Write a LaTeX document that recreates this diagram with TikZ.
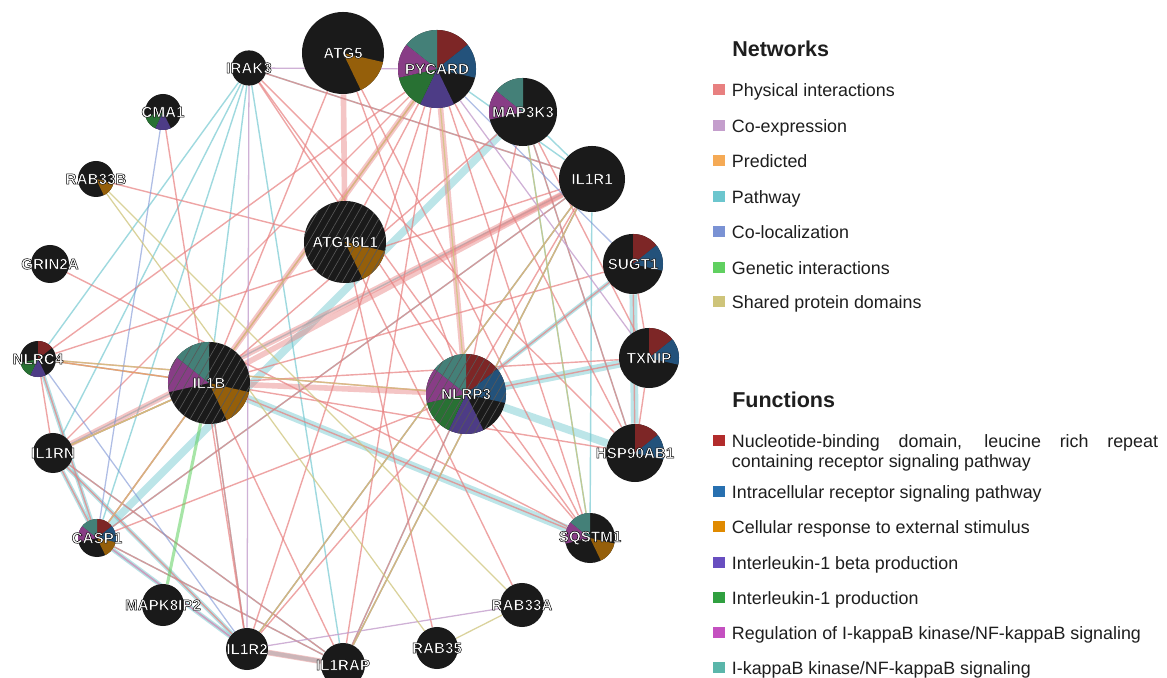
\documentclass[tikz,border=0pt]{standalone}
\usepackage{fontspec}
\setmainfont{Liberation Sans}
\usepackage{xcolor}
\usepackage{tikz}
\usetikzlibrary{positioning, backgrounds, patterns.meta}
\definecolor{nodeblack}{RGB}{26, 26, 26}
\definecolor{hatchgray}{RGB}{88, 88, 88}
\definecolor{legblack}{RGB}{30, 30, 30}
\definecolor{physpink}{RGB}{232, 128, 128}
\definecolor{coexlilac}{RGB}{196, 158, 204}
\definecolor{predorange}{RGB}{245, 170, 85}
\definecolor{pathcyan}{RGB}{108, 198, 206}
\definecolor{colocblue}{RGB}{122, 146, 212}
\definecolor{genegreen}{RGB}{96, 208, 96}
\definecolor{domainolive}{RGB}{206, 196, 122}
\definecolor{fnred}{RGB}{178, 44, 44}
\definecolor{fnblue}{RGB}{40, 112, 176}
\definecolor{fnorange}{RGB}{224, 138, 0}
\definecolor{fnpurple}{RGB}{104, 78, 192}
\definecolor{fngreen}{RGB}{48, 160, 64}
\definecolor{fnmagenta}{RGB}{196, 80, 192}
\definecolor{fnteal}{RGB}{90, 182, 170}
\colorlet{slred}{fnred!65!nodeblack}
\colorlet{slblue}{fnblue!65!nodeblack}
\colorlet{slorange}{fnorange!62!nodeblack}
\colorlet{slpurple}{fnpurple!65!nodeblack}
\colorlet{slgreen}{fngreen!65!nodeblack}
\colorlet{slmagenta}{fnmagenta!65!nodeblack}
\colorlet{slteal}{fnteal!65!nodeblack}
\newcommand{\genefont}{\fontsize{10.8}{12}\selectfont\bfseries}
\newcommand{\legfont}{\fontsize{12.7}{14.2}\selectfont}
\newcommand{\titlefont}{\fontsize{15.3}{18}\selectfont\bfseries}
% white gene name with a thin black outline, kept out of the node size
\newcommand{\glabel}[1]{\makebox[0pt]{\special{pdf:literal direct 0 G 0.35 w 1 j 2 Tr}#1\special{pdf:literal direct 0 Tr}}}
% one of seven equal function slices, clockwise from the top
\newcommand{\wedges}[1]{%
  \foreach \wk/\wc in {#1}{%
    \fill[\wc] (path picture bounding box.center) -- +({90-\wk*51.4286}:3cm) -- +({90-(\wk+1)*51.4286}:3cm) -- cycle;}}
\newcommand{\hatch}{%
  \fill[pattern={Lines[angle=60, distance=5pt, line width=0.45pt]}, pattern color=hatchgray]
    (path picture bounding box.south west) rectangle (path picture bounding box.north east);}

\begin{document}
\begin{tikzpicture}[
    x=0.025cm, y=0.025cm,
    % Style definitions
    gene/.style={circle, fill=nodeblack, minimum size=#1, inner sep=0pt, text=white, font=\genefont},
    swatch/.style={minimum width=0.3cm, minimum height=0.275cm, inner sep=0pt},
    legtext/.style={font=\legfont, text=legblack, inner sep=0pt, text height=11.5pt, text depth=2.4pt},
    legpara/.style={font=\legfont, text=legblack, inner sep=0pt, text width=10.65cm, align=justify},
    legtitle/.style={font=\titlefont, text=legblack, inner sep=0pt, anchor=west},
    phys/.style={draw=physpink, draw opacity=0.7, line width=1pt},
    physwide/.style={draw=physpink, draw opacity=0.45, line width=4pt},
    coexp/.style={draw=coexlilac, draw opacity=0.8, line width=0.9pt},
    pred/.style={draw=predorange, draw opacity=0.6, line width=0.9pt},
    pathway/.style={draw=pathcyan, draw opacity=0.65, line width=1pt},
    pathmid/.style={draw=pathcyan, draw opacity=0.5, line width=3pt},
    pathwide/.style={draw=pathcyan, draw opacity=0.45, line width=5.5pt},
    coloc/.style={draw=colocblue, draw opacity=0.6, line width=0.9pt},
    genetic/.style={draw=genegreen, draw opacity=0.55, line width=2.2pt},
    shareddom/.style={draw=domainolive, draw opacity=0.75, line width=0.9pt}
]
    \useasboundingbox (0,0) rectangle (1167,678);

    % === GENES ===
    \node (atg5) [gene=2.05cm, path picture={\wedges{2/slorange}}] at (343,625) {\glabel{ATG5}};
    \node (pycard) [gene=1.95cm, path picture={\wedges{0/slred,1/slblue,3/slpurple,4/slgreen,5/slmagenta,6/slteal}}] at (437,609) {\glabel{PYCARD}};
    \node (irak3) [gene=0.88cm] at (249,610) {\glabel{IRAK3}};
    \node (map3k3) [gene=1.7cm, path picture={\wedges{5/slmagenta,6/slteal}}] at (523,566) {\glabel{MAP3K3}};
    \node (cma1) [gene=0.9cm, path picture={\wedges{3/slpurple,4/slgreen}}] at (163,566) {\glabel{CMA1}};
    \node (rab33b) [gene=0.9cm, path picture={\wedges{2/slorange}}] at (96,499) {\glabel{RAB33B}};
    \node (il1r1) [gene=1.65cm] at (592,499) {\glabel{IL1R1}};
    \node (atg16l1) [gene=2.05cm, path picture={\wedges{2/slorange}\hatch}] at (345,436) {\glabel{ATG16L1}};
    \node (grin2a) [gene=0.95cm] at (50,414) {\glabel{GRIN2A}};
    \node (sugt1) [gene=1.5cm, path picture={\wedges{0/slred,1/slblue}}] at (633,414) {\glabel{SUGT1}};
    \node (txnip) [gene=1.5cm, path picture={\wedges{0/slred,1/slblue}}] at (649,320) {\glabel{TXNIP}};
    \node (nlrc4) [gene=0.9cm, path picture={\wedges{0/slred,3/slpurple,4/slgreen}}] at (38,319) {\glabel{NLRC4}};
    \node (il1b) [gene=2.05cm, path picture={\wedges{2/slorange,5/slmagenta,6/slteal}\hatch}] at (209,295) {\glabel{IL1B}};
    \node (nlrp3) [gene=2.0cm, path picture={\wedges{0/slred,1/slblue,3/slpurple,4/slgreen,5/slmagenta,6/slteal}\hatch}] at (466,284) {\glabel{NLRP3}};
    \node (hsp90ab1) [gene=1.45cm, path picture={\wedges{0/slred,1/slblue}}] at (635,225) {\glabel{HSP90AB1}};
    \node (il1rn) [gene=1.0cm] at (53,225) {\glabel{IL1RN}};
    \node (casp1) [gene=0.95cm, path picture={\wedges{0/slred,1/slblue,2/slorange,5/slmagenta,6/slteal}}] at (97,140) {\glabel{CASP1}};
    \node (sqstm1) [gene=1.25cm, path picture={\wedges{2/slorange,5/slmagenta,6/slteal}}] at (590,140) {\glabel{SQSTM1}};
    \node (mapk8ip2) [gene=1.05cm] at (163,73) {\glabel{MAPK8IP2}};
    \node (rab33a) [gene=1.1cm] at (522,73) {\glabel{RAB33A}};
    \node (il1r2) [gene=1.05cm] at (247,29) {\glabel{IL1R2}};
    \node (il1rap) [gene=1.1cm] at (343,13) {\glabel{IL1RAP}};
    \node (rab35) [gene=1.05cm] at (437,30) {\glabel{RAB35}};

    \begin{scope}[on background layer]
    \fill [white] (0,0) rectangle (1167,678);

    % === PATHWAY (wide) ===
    \path [pathwide] (casp1) -- (map3k3);
    \path [pathwide] (il1b) -- (sqstm1);
    \path [pathwide] (nlrp3) -- (txnip);
    \path [pathwide] (nlrp3) -- (hsp90ab1);
    \path [pathwide] (sugt1) -- (hsp90ab1);
    \path [pathmid] (sugt1) -- (nlrp3);
    \path [pathmid] (nlrc4) -- (casp1);
    \path [pathmid] (il1rn) -- (casp1);
    \path [pathmid] (casp1) -- (il1r2);
    \path [pathmid] (il1rn) -- (il1r2);
    \path [pathmid] (il1r2) -- (il1rap);

    % === PATHWAY ===
    \path [pathway] (irak3) -- (il1b);
    \path [pathway] (irak3) -- (nlrc4);
    \path [pathway] (irak3) -- (il1rn);
    \path [pathway] (irak3) -- (casp1);
    \path [pathway] (irak3) -- (il1rap);
    \path [pathway] (irak3) -- (il1r1);
    \path [pathway] (il1r1) -- (il1rn);
    \path [pathway] (il1r1) -- (casp1);
    \path [pathway] (il1r1) -- (il1rap);
    \path [pathway] (il1r1) -- (il1r2);
    \path [pathway] (il1r1) -- (map3k3);
    \path [pathway] (il1r1) -- (sqstm1);
    \path [pathway] (map3k3) -- (sqstm1);
    \path [pathway] (map3k3) -- (hsp90ab1);
    \path [pathway] (pycard) -- (il1r1);
    \path [pathway] (il1b) -- (il1r2);
    \path [pathway] (il1b) -- (nlrc4);
    \path [pathway] (il1b) -- (il1rn);
    \path [pathway] (casp1) -- (il1rap);
    \path [pathway] (il1rn) -- (il1rap);
    \path [pathway] (nlrp3) -- (il1rap);

    % === PHYSICAL INTERACTIONS ===
    \path [physwide] (atg5) -- (atg16l1);
    \path [physwide] (pycard) -- (nlrp3);
    \path [physwide] (il1b) -- (il1r1);
    \path [physwide] (il1b) -- (nlrp3);
    \path [physwide] (pycard) -- (il1b);
    \path [physwide] (il1rn) -- (il1r1);
    \path [physwide] (il1r2) -- (il1rap);
    \path [phys] (pycard) -- (nlrc4);
    \path [phys] (pycard) -- (il1rn);
    \path [phys] (pycard) -- (casp1);
    \path [phys] (pycard) -- (il1r2);
    \path [phys] (pycard) -- (sqstm1);
    \path [phys] (pycard) -- (hsp90ab1);
    \path [phys] (pycard) -- (il1rap);
    \path [phys] (pycard) -- (atg16l1);
    \path [phys] (atg5) -- (il1b);
    \path [phys] (atg5) -- (nlrp3);
    \path [phys] (atg5) -- (sqstm1);
    \path [phys] (irak3) -- (nlrp3);
    \path [phys] (irak3) -- (hsp90ab1);
    \path [phys] (irak3) -- (sqstm1);
    \path [phys] (irak3) -- (il1r1);
    \path [phys] (map3k3) -- (nlrp3);
    \path [phys] (map3k3) -- (txnip);
    \path [phys] (map3k3) -- (hsp90ab1);
    \path [phys] (map3k3) -- (il1b);
    \path [phys] (il1r1) -- (nlrc4);
    \path [phys] (il1r1) -- (casp1);
    \path [phys] (il1r1) -- (il1r2);
    \path [phys] (il1r1) -- (il1rap);
    \path [phys] (il1r1) -- (nlrp3);
    \path [phys] (sugt1) -- (txnip);
    \path [phys] (sugt1) -- (hsp90ab1);
    \path [phys] (nlrp3) -- (casp1);
    \path [phys] (nlrp3) -- (nlrc4);
    \path [phys] (nlrp3) -- (il1rap);
    \path [phys] (nlrp3) -- (il1r2);
    \path [phys] (nlrp3) -- (txnip);
    \path [phys] (nlrp3) -- (sqstm1);
    \path [phys] (nlrp3) -- (sugt1);
    \path [phys] (il1b) -- (nlrc4);
    \path [phys] (il1b) -- (il1rn);
    \path [phys] (il1b) -- (casp1);
    \path [phys] (il1b) -- (il1r2);
    \path [phys] (il1b) -- (il1rap);
    \path [phys] (il1b) -- (hsp90ab1);
    \path [phys] (il1b) -- (txnip);
    \path [phys] (il1b) -- (sugt1);
    \path [phys] (il1b) -- (sqstm1);
    \path [phys] (nlrc4) -- (casp1);
    \path [phys] (nlrc4) -- (il1rn);
    \path [phys] (il1rn) -- (casp1);
    \path [phys] (il1rn) -- (il1r2);
    \path [phys] (il1rn) -- (il1rap);
    \path [phys] (casp1) -- (il1r2);
    \path [phys] (casp1) -- (il1rap);
    \path [phys] (rab33b) -- (atg16l1);
    \path [phys] (grin2a) -- (sqstm1);
    \path [phys] (cma1) -- (il1r2);
    \path [phys] (rab35) -- (atg16l1);
    \path [phys] (rab33a) -- (atg16l1);
    \path [phys] (txnip) -- (hsp90ab1);

    % === CO-EXPRESSION, CO-LOCALIZATION, PREDICTED ===
    \path [coexp] (irak3) -- (pycard);
    \path [coexp] (irak3) -- (il1r2);
    \path [coexp] (rab33a) -- (il1r2);
    \path [coexp] (il1rn) -- (il1b);
    \path [coexp] (casp1) -- (il1r2);
    \path [coexp] (txnip) -- (pycard);
    \path [coloc] (cma1) -- (casp1);
    \path [coloc] (sugt1) -- (pycard);
    \path [coloc] (nlrc4) -- (il1r2);
    \path [pred] (il1rn) -- (il1b);
    \path [pred] (nlrc4) -- (il1b);

    % === GENETIC, SHARED DOMAINS ===
    \path [genetic] (il1b) -- (mapk8ip2);
    \path [shareddom] (rab33b) -- (rab35);
    \path [shareddom] (rab33b) -- (rab33a);
    \path [shareddom] (rab33a) -- (rab35);
    \path [shareddom] (il1r1) -- (il1r2);
    \path [shareddom] (il1r1) -- (il1rap);
    \path [shareddom] (il1b) -- (il1rn);
    \path [shareddom] (map3k3) -- (sqstm1);
    \path [shareddom] (pycard) -- (nlrp3);
    \path [shareddom] (nlrc4) -- (nlrp3);
    \path [shareddom] (casp1) -- (pycard);
    \end{scope}

    % === LEGEND: NETWORKS ===
    \node (net_title) [legtitle] at (732,629) {Networks};
    \node (sw_phys) [swatch, fill=physpink] at (719,588) {};
    \node (lg_phys) [legtext, right=0.16cm of sw_phys] {Physical interactions};
    \node (sw_coexp) [swatch, fill=coexlilac] at (719,552) {};
    \node (lg_coexp) [legtext, right=0.16cm of sw_coexp] {Co-expression};
    \node (sw_pred) [swatch, fill=predorange] at (719,517) {};
    \node (lg_pred) [legtext, right=0.16cm of sw_pred] {Predicted};
    \node (sw_path) [swatch, fill=pathcyan] at (719,481) {};
    \node (lg_path) [legtext, right=0.16cm of sw_path] {Pathway};
    \node (sw_coloc) [swatch, fill=colocblue] at (719,446) {};
    \node (lg_coloc) [legtext, right=0.16cm of sw_coloc] {Co-localization};
    \node (sw_gen) [swatch, fill=genegreen] at (719,410) {};
    \node (lg_gen) [legtext, right=0.16cm of sw_gen] {Genetic interactions};
    \node (sw_dom) [swatch, fill=domainolive] at (719,376) {};
    \node (lg_dom) [legtext, right=0.16cm of sw_dom] {Shared protein domains};

    % === LEGEND: FUNCTIONS ===
    \node (fn_title) [legtitle] at (732,278) {Functions};
    \node (sw_nbd) [swatch, fill=fnred] at (719,237) {};
    \node (lg_nbd) [legpara, right=0.16cm of sw_nbd, anchor=north west, yshift=4.7pt] {Nucleotide-binding domain, leucine rich repeat\linebreak containing receptor signaling pathway};
    \node (sw_icr) [swatch, fill=fnblue] at (719,186) {};
    \node (lg_icr) [legtext, right=0.16cm of sw_icr] {Intracellular receptor signaling pathway};
    \node (sw_cre) [swatch, fill=fnorange] at (719,151) {};
    \node (lg_cre) [legtext, right=0.16cm of sw_cre] {Cellular response to external stimulus};
    \node (sw_ilbp) [swatch, fill=fnpurple] at (719,115) {};
    \node (lg_ilbp) [legtext, right=0.16cm of sw_ilbp] {Interleukin-1 beta production};
    \node (sw_ilp) [swatch, fill=fngreen] at (719,80) {};
    \node (lg_ilp) [legtext, right=0.16cm of sw_ilp] {Interleukin-1 production};
    \node (sw_reg) [swatch, fill=fnmagenta] at (719,45) {};
    \node (lg_reg) [legtext, right=0.16cm of sw_reg] {Regulation of I-kappaB kinase/NF-kappaB signaling};
    \node (sw_ikk) [swatch, fill=fnteal] at (719,10) {};
    \node (lg_ikk) [legtext, right=0.16cm of sw_ikk] {I-kappaB kinase/NF-kappaB signaling};

\end{tikzpicture}
\end{document}
